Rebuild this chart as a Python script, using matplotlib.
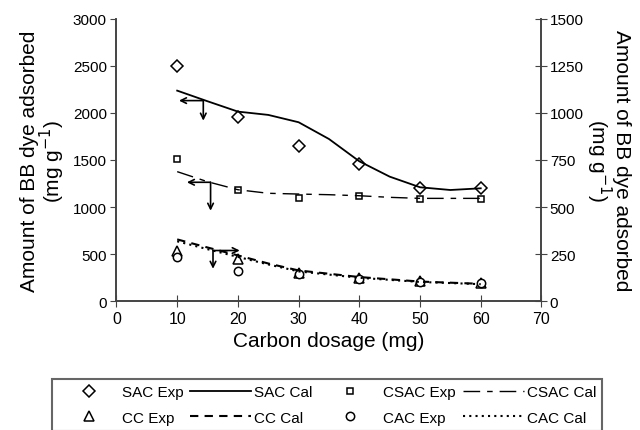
import numpy as np
import matplotlib.pyplot as plt

plt.rcParams['font.family'] = ['Liberation Sans', 'DejaVu Sans']

# carbon dosage (mg)
dose = [10, 20, 30, 40, 50, 60]
dose_fine = [10, 15, 20, 25, 30, 35, 40, 45, 50, 55, 60]

# left axis (mg g-1)
sac_exp = [2500, 1954, 1649, 1457, 1199, 1199]
sac_cal = [2237, 2124, 2014, 1979, 1901, 1723, 1486, 1323, 1210, 1181, 1199]
csac_exp = [1507, 1184, 1099, 1114, 1082, 1082]
csac_cal = [1376, 1269, 1184, 1146, 1138, 1131, 1120, 1103, 1092, 1092, 1092]

# right axis (mg g-1)
cc_exp = [268, 223, 152, 124, 106, 97]
cac_exp = [232, 161, 142, 120, 104, 97]
dose_cc = [10, 15, 20, 25, 30, 40, 50, 60]
cc_cal = [328, 285, 243, 200, 163, 128, 104, 92]
cac_cal = [318, 276, 235, 195, 158, 124, 102, 90]

grey = '#444444'

fig = plt.figure(figsize=(6.4, 4.31), dpi=100)
ax = fig.add_axes([0.182, 0.299, 0.664, 0.655])
ax2 = ax.twinx()

mk = dict(mfc='white', mec='black', mew=1.1, ls='none')
h1, = ax.plot(dose, sac_exp, marker='D', ms=6.5, label='SAC Exp', **mk)
h2, = ax.plot(dose_fine, sac_cal, color='black', lw=1.3, label='SAC Cal')
h3, = ax.plot(dose, csac_exp, marker='s', ms=5, label='CSAC Exp', **mk)
h4, = ax.plot(dose_fine, csac_cal, color='black', lw=1.0, ls=(0, (12, 5, 4, 5)), label='CSAC Cal')

h5, = ax2.plot(dose, cc_exp, marker='^', ms=7, label='CC Exp', **mk)
h6, = ax2.plot(dose_cc, cc_cal, color='black', lw=1.5, ls=(0, (4, 3)), label='CC Cal')
h7, = ax2.plot(dose, cac_exp, marker='o', ms=6, label='CAC Exp', **mk)
h8, = ax2.plot(dose_cc, cac_cal, color='black', lw=1.5, ls=(0, (1, 2)), label='CAC Cal')

# arrows pointing to the axis each group belongs to
arr = dict(arrowstyle='->', color='black', lw=1.2, shrinkA=0, shrinkB=0)
ax.annotate('', xy=(10.3, 2131), xytext=(14.3, 2131), arrowprops=arr)
ax.annotate('', xy=(14.3, 1918), xytext=(14.3, 2131), arrowprops=arr)
ax.annotate('', xy=(11.6, 1263), xytext=(15.5, 1263), arrowprops=arr)
ax.annotate('', xy=(15.5, 961), xytext=(15.5, 1263), arrowprops=arr)
ax.annotate('', xy=(20.3, 538), xytext=(15.9, 538), arrowprops=arr)
ax.annotate('', xy=(15.9, 344), xytext=(15.9, 538), arrowprops=arr)

ax.set_xlim(0, 70)
ax.set_ylim(0, 3000)
ax2.set_ylim(0, 1500)
ax.set_xticks(np.arange(0, 71, 10))
ax.set_yticks(np.arange(0, 3001, 500))
ax2.set_yticks(np.arange(0, 1501, 250))

for a in (ax, ax2):
    for s in a.spines.values():
        s.set_color(grey)
        s.set_linewidth(1.2)
    a.spines['top'].set_visible(False)
ax.tick_params(axis='y', direction='out', length=4, color=grey, labelsize=11, pad=3)
ax.tick_params(axis='x', direction='inout', length=8, color=grey, labelsize=11.5, pad=3)
ax2.tick_params(axis='y', direction='inout', length=8, color=grey, labelsize=11, pad=2)

ylab = 'Amount of BB dye adsorbed\n(mg g$^{-1}$)'
ax.set_xlabel('Carbon dosage (mg)', fontsize=15, labelpad=4)
ax.set_ylabel(ylab, fontsize=15, linespacing=0.95, labelpad=4)
ax2.set_ylabel(ylab, fontsize=15, linespacing=0.95, rotation=270, labelpad=34)

fig.legend(handles=[h1, h5, h2, h6, h3, h7, h4, h8], ncol=4, loc='upper left',
           bbox_to_anchor=(0.081, -0.05, 0.86, 0.168), mode='expand',
           fontsize=11, numpoints=1, handlelength=4.0, handletextpad=0.2,
           labelspacing=0.75, borderaxespad=0, fancybox=False,
           edgecolor='#666666', framealpha=1).get_frame().set_linewidth(1.5)

fig.savefig('out.png', dpi=100)
